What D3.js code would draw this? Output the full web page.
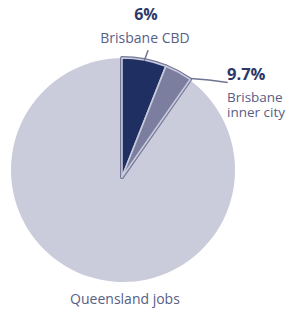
<!DOCTYPE html>
<html>
<head>
<meta charset="utf-8">
<script src="https://cdn.jsdelivr.net/npm/d3@7"></script>
<style>
  body { margin: 0; background: #fff; }
  svg text { font-family: "Open Sans", "Noto Sans", sans-serif; }
</style>
</head>
<body>
<div id="chart"></div>
<script>
// share of Queensland jobs (%)
var categories = ["Brisbane CBD", "Brisbane inner city", "Queensland jobs"];
var shares = [6, 3.7, 90.3];
var colors = ["#1f2f62", "#7b7e9f", "#cacbdb"];

var width = 289, height = 309;

var svg = d3.select("#chart").append("svg")
    .attr("width", width)
    .attr("height", height);

var data = categories.map(function (c, i) {
    return { name: c, value: shares[i] };
});

var pie = d3.pie()
    .sort(null)
    .value(function (d) { return d.value; });

var slices = pie(data);

/* base circle */
var base = svg.append("g")
    .attr("transform", "translate(123,170)");

var baseArc = d3.arc().innerRadius(0).outerRadius(112);

base.selectAll("path")
    .data(slices)
    .enter().append("path")
    .attr("d", baseArc)
    .style("fill", colors[2]);

/* highlighted slices */
var hi = svg.append("g")
    .attr("transform", "translate(122,177)");

var hiArc = d3.arc().innerRadius(0).outerRadius(119);
var hiSlices = slices.slice(0, 2);

hi.selectAll("path.edge")
    .data(hiSlices)
    .enter().append("path")
    .attr("class", "edge")
    .attr("d", hiArc)
    .style("fill", "none")
    .style("stroke", "#747899")
    .style("stroke-width", 4)
    .style("stroke-linejoin", "round");

hi.selectAll("path.fill")
    .data(hiSlices)
    .enter().append("path")
    .attr("class", "fill")
    .attr("d", hiArc)
    .style("fill", function (d, i) { return colors[i]; })
    .style("stroke", "#c9cbdc")
    .style("stroke-width", 1.6)
    .style("stroke-linejoin", "round");

function pt(angle, r) {
    return [Math.sin(angle) * r, -Math.cos(angle) * r];
}

/* leader lines */
var cbd = hiSlices[0];
var cbdMid = (cbd.startAngle + cbd.endAngle) / 2;
var a1 = pt(cbdMid, 118), a2 = pt(cbdMid, 129);
hi.append("line")
    .attr("x1", a1[0]).attr("y1", a1[1])
    .attr("x2", a2[0] + 2).attr("y2", a2[1])
    .style("stroke", "#6f7494")
    .style("stroke-width", 1.5);

var inner = hiSlices[1];
var b1 = pt(inner.endAngle, 120);
hi.append("path")
    .attr("d", "M" + b1[0] + "," + b1[1] +
        " Q" + (b1[0] + 18) + "," + (b1[1] + 1) + " " + (b1[0] + 37) + "," + (b1[1] + 4))
    .style("fill", "none")
    .style("stroke", "#6f7494")
    .style("stroke-width", 1.5);

/* labels */
var labelColor = "#576086";
var valueColor = "#2b3868";

svg.append("text")
    .attr("x", 146).attr("y", 20)
    .attr("text-anchor", "middle")
    .style("font-size", "16px")
    .style("font-weight", "bold")
    .style("fill", valueColor)
    .text(shares[0] + "%");

svg.append("text")
    .attr("x", 145).attr("y", 43)
    .attr("text-anchor", "middle")
    .style("font-size", "14px")
    .style("fill", labelColor)
    .text(categories[0]);

svg.append("text")
    .attr("x", 227).attr("y", 80)
    .style("font-size", "16.5px")
    .style("font-weight", "bold")
    .style("fill", valueColor)
    .text(d3.format(".1f")(shares[0] + shares[1]) + "%");

// two-line label for the inner city
svg.append("text")
    .attr("x", 227).attr("y", 102)
    .style("font-size", "13.5px")
    .style("fill", labelColor)
    .selectAll("tspan")
    .data(["Brisbane", "inner city"])
    .enter().append("tspan")
    .attr("x", 227)
    .attr("dy", function (d, i) { return i ? 15 : 0; })
    .text(function (d) { return d; });

svg.append("text")
    .attr("x", 125).attr("y", 304)
    .attr("text-anchor", "middle")
    .style("font-size", "14px")
    .style("fill", labelColor)
    .text(categories[2]);
</script>
</body>
</html>
